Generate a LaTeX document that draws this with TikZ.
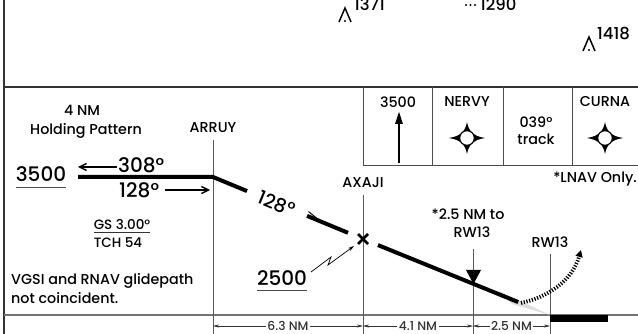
\documentclass[tikz,border=0pt]{standalone}
\usepackage{fontspec}
\IfFontExistsTF{Poppins Medium}{\setmainfont{Poppins Medium}}{\setmainfont{Poppins}}
\usetikzlibrary{arrows.meta,calc}
\begin{document}
\begin{tikzpicture}[x=1pt,y=-1pt,
  lbl/.style={font=\fontsize{14.3}{14.3}\selectfont, inner sep=0pt},
  sml/.style={font=\fontsize{13.5}{13.5}\selectfont, inner sep=0pt},
  elev/.style={font=\fontsize{16.5}{16.5}\selectfont, inner sep=0pt},
  dst/.style={font=\fontsize{12.3}{12.3}\selectfont, inner sep=1.5pt, fill=white},
  big/.style={font=\fontsize{20}{20}\selectfont, inner sep=0pt},
  fixline/.style={draw=black!65, line width=0.9pt},
  frame/.style={draw=black!80, line width=2.4pt},
  boxline/.style={draw=black!70, line width=0.9pt},
  prof/.style={line width=4pt, black},
  crs/.style={line width=1.4pt, -{Straight Barb[length=7pt,width=7pt]}},
  dimarrow/.style={line width=0.6pt, black!80, {Stealth[length=6pt,width=3pt]}-{Stealth[length=6pt,width=3pt]}},
  flyby/.pic={
    \fill (18,0) .. controls (7,-1.8) and (1.8,-6) .. (0,-16)
          .. controls (-1.8,-6) and (-7,-1.8) .. (-18,0)
          .. controls (-7,1.8) and (-1.8,6) .. (0,16)
          .. controls (1.8,6) and (7,1.8) .. (18,0) -- cycle;
    \draw[fill=white, line width=1.1pt] (0,0) circle (7.3);
  },
  spot/.pic={
    \draw[line width=1.5pt] (-6,7) -- (0,-7) -- (6,7);
    \fill (0,6) circle (1.1);
  }
]
\useasboundingbox (0,0) rectangle (638,334);

% ---------- frame ----------
\coordinate (fTL) at (4,0);
\coordinate (fBL) at (4,334);
\coordinate (sepL) at (4,87);
\coordinate (sepR) at (638,87);
\coordinate (botL) at (4,315);
\coordinate (botR) at (638,315);
\draw[frame] (fTL) -- (fBL);
\draw[frame] (sepL) -- (sepR);
\draw[draw=black!55, line width=1.4pt] (botL) -- (botR);

% ---------- spot elevations ----------
\pic at (345,15) {spot};
\node[elev, anchor=south west] (e1371) at (354,11) {1371};
\fill (466,5) circle (1.1) (470.5,5) circle (1.1) (475,5) circle (1.1);
\node[elev, anchor=south west] (e1290) at (480,11) {1290};
\pic at (589,44) {spot};
\node[elev, anchor=south west] (e1418) at (597,40) {1418};

% ---------- top right box ----------
\coordinate (bxA) at (363,87);
\coordinate (bxB) at (432,87);
\coordinate (bxC) at (503,87);
\coordinate (bxD) at (572,87);
\coordinate (bxA2) at (363,165);
\coordinate (bxB2) at (432,165);
\coordinate (bxC2) at (503,165);
\coordinate (bxD2) at (572,165);
\coordinate (bxR2) at (638,165);
\draw[boxline] (bxA) -- (bxA2) -- (bxR2);
\draw[boxline] (bxB) -- (bxB2);
\draw[boxline] (bxC) -- (bxC2);
\draw[boxline] (bxD) -- (bxD2);
\node[lbl] (b3500) at (398,102) {3500};
\node[lbl] (nervy) at (467,102) {NERVY};
\node[lbl] (curna) at (605,102) {CURNA};
\node[lbl] (trk1) at (536,122) {039°};
\node[lbl] (trk2) at (536,139) {track};
\coordinate (upA) at (399,163);
\coordinate (upB) at (399,111);
\draw[line width=2.6pt, -{Triangle[length=13pt,width=7pt]}] (upA) -- (upB);
\pic at (467,138) {flyby};
\pic at (605,138) {flyby};
\node[lbl, anchor=east] (lnav) at (637,179) {*LNAV Only.};

% ---------- left notes ----------
\node[lbl] (fourNM) at (82,110) {4 NM};
\node[lbl] (hold) at (86,131) {Holding Pattern};
\node[big] (alt3500) at (41,174.5) {3500};
\draw[black!70, line width=1pt] ($(alt3500.south west)+(0,5)$) -- ($(alt3500.south east)+(0,5)$);
\node[sml] (gs) at (122,225) {GS 3.00°};
\draw[black!80, line width=0.9pt] ($(gs.south west)+(0,2.5)$) -- ($(gs.south east)+(0,2.5)$);
\node[sml] (tch) at (118,243) {TCH 54};
\node[lbl, anchor=west] (vgsi1) at (11,281) {VGSI and RNAV glidepath};
\node[lbl, anchor=west] (vgsi2) at (11,298) {not coincident.};

% ---------- fixes ----------
\coordinate (arruy) at (213,177);
\coordinate (axaji) at (363,239);
\coordinate (sdf) at (473,284);
\coordinate (thr) at (550,315);
\coordinate (holdL) at (78,177);

\node[lbl] (arruylbl) at (213,128) {ARRUY};
\node[lbl] (axajilbl) at (363,183) {AXAJI};
\node[lbl] (sdflbl1) at (468,214) {*2.5 NM to};
\node[lbl] (sdflbl2) at (472,232) {RW13};
\node[lbl] (rwlbl) at (550,242) {RW13};

\coordinate (arruyT) at (213,140);
\coordinate (axajiT) at (363,195);
\coordinate (sdfT) at (473,249);
\coordinate (rwT) at (550,254);
\coordinate (arruyB) at (213,334);
\coordinate (axajiB) at (363,334);
\coordinate (sdfB) at (473,334);
\coordinate (rwB) at (550,334);
\draw[fixline] (arruyT) -- (arruyB);
\draw[fixline] (axajiT) -- (axajiB);
\draw[fixline] (sdfT) -- (sdfB);
\draw[fixline] (rwT) -- (rwB);

% ---------- holding ----------
\coordinate (h308a) at (117,167);
\coordinate (h308b) at (78,167);
\draw[crs] (h308a) -- (h308b);
\node[big, anchor=west] (c308) at (118,165) {308°};
\node[big, anchor=west] (c128a) at (119,190) {128°};
\coordinate (h128a) at (165,190);
\coordinate (h128b) at (210,190);
\draw[crs] (h128a) -- (h128b);

% ---------- profile ----------
\fill[black!13] (497,290) -- (thr) -- (512,304) -- cycle;
\draw[prof] (holdL) -- (arruy) -- ($(arruy)!0.227!(axaji)$);
\path (arruy) -- (axaji) node[pos=0.425, sloped, font=\fontsize{19}{19}\selectfont, inner sep=0pt] (c128b) {128°};
\draw[prof] ($(arruy)!0.627!(axaji)$) -- ($(arruy)!0.9!(axaji)$);
\draw[line width=1pt] ($(arruy)!0.63!(axaji)+(1,-4.5)$) -- ($(arruy)!0.72!(axaji)$);
\draw[prof] ($(axaji)!0.08!(thr)$) -- ($(axaji)!0.83!(thr)$);
\draw[line width=2.8pt] ($(axaji)+(-5,-5)$) -- ($(axaji)+(5,5)$);
\draw[line width=2.8pt] ($(axaji)+(-5,5)$) -- ($(axaji)+(5,-5)$);
\fill (466,270) -- (481,270) -- (473.5,284) -- cycle;
\fill (thr) rectangle (608,322);
\coordinate (mapS) at (521,303);
\coordinate (mapE) at (581,250);
\draw[line width=3.8pt, dash pattern=on 1.2pt off 1.6pt, -{Triangle[length=7pt,width=7pt]}]
  (mapS) .. controls (548,297) and (572,281) .. (mapE);

% ---------- 2500 ----------
\node[big] (alt2500) at (282,278) {2500};
\draw[black!70, line width=1pt] ($(alt2500.south west)+(0,5)$) -- ($(alt2500.south east)+(0,5)$);
\coordinate (bolt1) at (311,272);
\draw[line width=0.7pt, -{Stealth[length=6pt,width=3.5pt]}] (bolt1) -- (331,257) -- (328,265) -- ($(axaji)+(-9,7)$);

% ---------- distances ----------
\draw[dimarrow] ($(arruyB)+(0,-8)$) -- ($(axajiB)+(0,-8)$) node[midway, dst] (d63) {6.3 NM};
\draw[dimarrow] ($(axajiB)+(0,-8)$) -- ($(sdfB)+(0,-8)$) node[midway, dst] (d41) {4.1 NM};
\draw[dimarrow] ($(sdfB)+(0,-8)$) -- ($(rwB)+(0,-8)$) node[midway, dst] (d25) {2.5 NM};
\end{tikzpicture}
\end{document}
